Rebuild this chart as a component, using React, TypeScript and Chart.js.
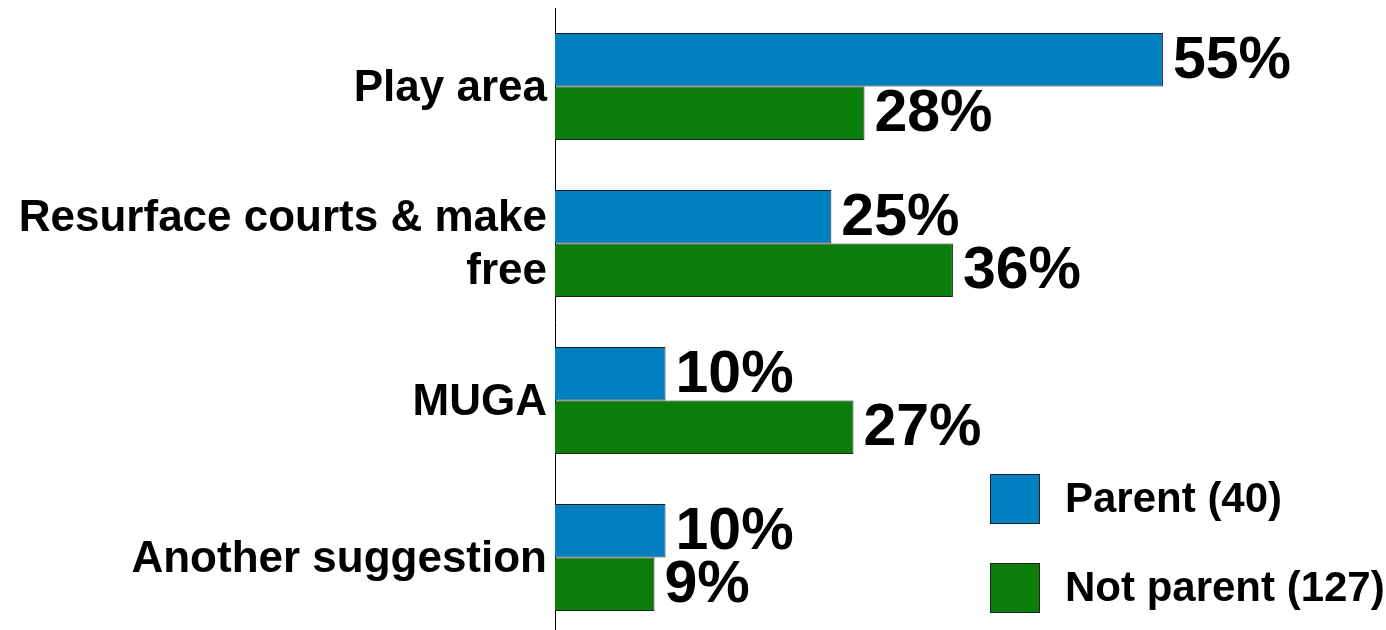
import React, { useEffect, useRef } from "react";
import { Chart, registerables } from "chart.js";

Chart.register(...registerables);

const categories: (string | string[])[] = [
  "Play area",
  ["Resurface courts & make", "free"],
  "MUGA",
  "Another suggestion",
];
const parentValues = [55, 25, 10, 10];
const notParentValues = [28, 36, 27, 9];
const seriesLabels = ["Parent (40)", "Not parent (127)"];
const seriesColors = ["#0080C0", "#0B7D0B"];

const FONT = "'Liberation Sans', Arial, Helvetica, sans-serif";

const valueLabelPlugin = {
  id: "valueLabels",
  afterDatasetsDraw(chart: any) {
    const ctx = chart.ctx;
    ctx.save();
    ctx.font = `bold 59px ${FONT}`;
    ctx.fillStyle = "#000";
    ctx.textAlign = "left";
    ctx.textBaseline = "middle";
    chart.data.datasets.forEach((ds: any, di: number) => {
      const meta = chart.getDatasetMeta(di);
      meta.data.forEach((bar: any, i: number) => {
        ctx.fillText(`${ds.data[i]}%`, bar.x + 10, bar.y + 2);
      });
    });
    ctx.restore();
  },
};

const legendPlugin = {
  id: "customLegend",
  afterDraw(chart: any) {
    const ctx = chart.ctx;
    const area = chart.chartArea;
    const x0 = area.right - 394;
    const ys = [474, 563];
    ctx.save();
    chart.data.datasets.forEach((ds: any, di: number) => {
      const y = ys[di];
      ctx.fillStyle = ds.backgroundColor;
      ctx.fillRect(x0, y, 50, 50);
      ctx.strokeStyle = "#222";
      ctx.lineWidth = 1;
      ctx.strokeRect(x0 + 0.5, y + 0.5, 49, 49);
      ctx.fillStyle = "#000";
      ctx.font = `bold 42px ${FONT}`;
      ctx.textAlign = "left";
      ctx.textBaseline = "middle";
      ctx.fillText(ds.label, x0 + 75, y + 26);
    });
    ctx.restore();
  },
};

export default function App() {
  const ref = useRef<HTMLCanvasElement | null>(null);
  useEffect(() => {
    if (!ref.current) return;
    const chart = new Chart(ref.current, {
      type: "bar",
      data: {
        labels: categories,
        datasets: [
          {
            label: seriesLabels[0],
            data: parentValues,
            backgroundColor: seriesColors[0],
            borderColor: "#1e1e1e",
            borderWidth: 1,
            categoryPercentage: 0.68,
            barPercentage: 1,
          },
          {
            label: seriesLabels[1],
            data: notParentValues,
            backgroundColor: seriesColors[1],
            borderColor: "#1e1e1e",
            borderWidth: 1,
            categoryPercentage: 0.68,
            barPercentage: 1,
          },
        ],
      },
      options: {
        indexAxis: "y",
        responsive: false,
        animation: false,
        layout: { padding: { top: 8, bottom: 4, left: 0, right: 2 } },
        plugins: {
          legend: { display: false },
          tooltip: { enabled: false },
        },
        scales: {
          x: {
            display: false,
            min: 0,
            max: 75,
          },
          y: {
            grid: { display: false, drawTicks: false },
            border: { display: true, color: "#000", width: 1 },
            ticks: {
              color: "#000",
              padding: 8,
              labelOffset: 2,
              font: { family: FONT, size: 44, weight: "bold", lineHeight: 1.19 },
            },
            afterFit(scale: any) {
              scale.width = 555;
              scale.paddingTop = 0;
              scale.paddingBottom = 0;
            },
          },
        },
      },
      plugins: [valueLabelPlugin, legendPlugin],
    } as any);
    return () => chart.destroy();
  }, []);
  return (
    <div
      style={{
        position: "absolute",
        left: 0,
        top: 0,
        width: 1386,
        height: 630,
        overflow: "hidden",
        background: "#fff",
      }}
    >
      <canvas ref={ref} width={1386} height={640} style={{ display: "block" }} />
    </div>
  );
}
